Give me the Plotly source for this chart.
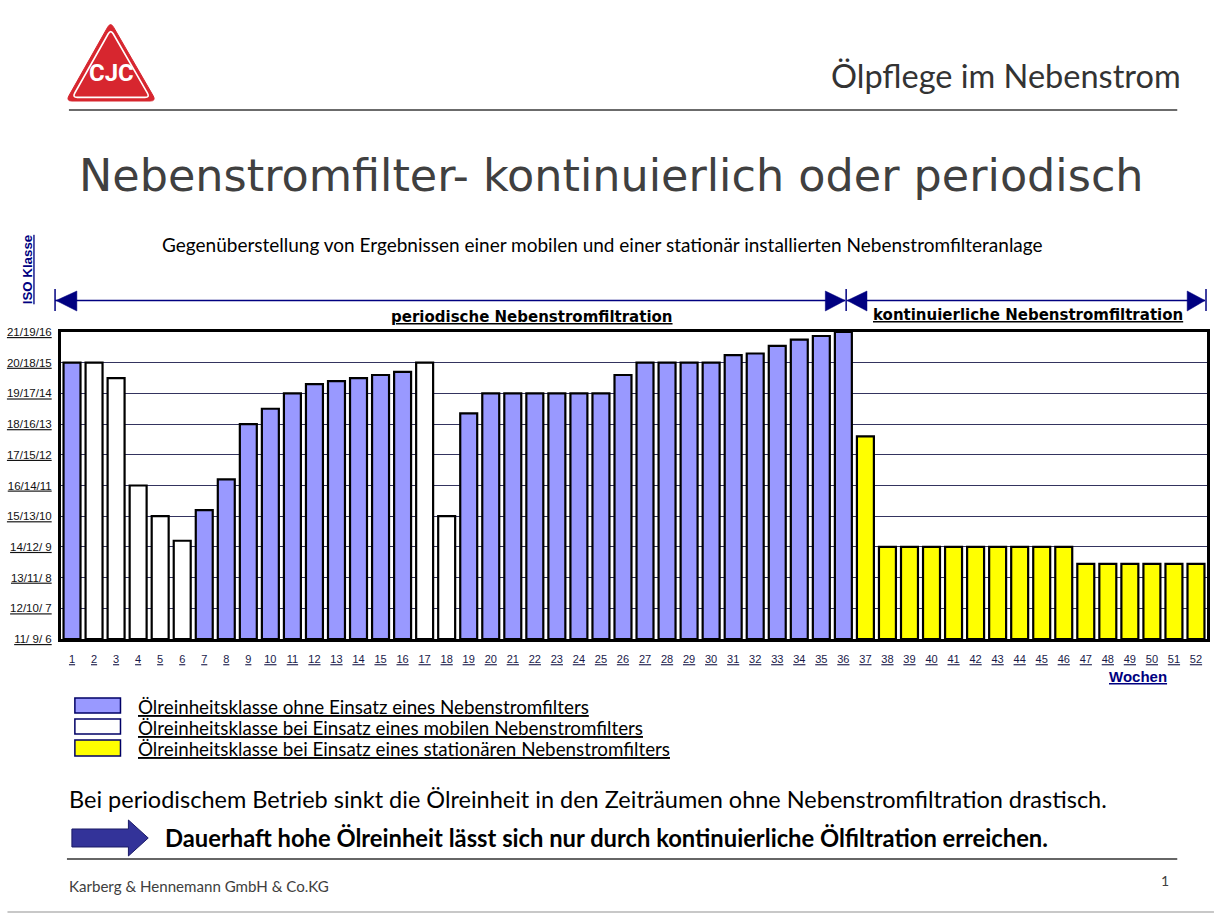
import plotly.graph_objects as go

# ---------------- data ----------------
weeks = list(range(1, 53))
week_labels = [str(w) for w in weeks]

# ISO class index: 0 = 11/9/6 ... 10 = 21/19/16
iso_values = [9.0, 9.0, 8.5, 5.0, 4.0, 3.2, 4.2, 5.2, 7.0, 7.5,
              8.0, 8.3, 8.4, 8.5, 8.6, 8.7, 9.0, 4.0, 7.35, 8.0,
              8.0, 8.0, 8.0, 8.0, 8.0, 8.6, 9.0, 9.0, 9.0, 9.0,
              9.25, 9.3, 9.55, 9.75, 9.87, 10.0, 6.6, 3.0, 3.0, 3.0,
              3.0, 3.0, 3.0, 3.0, 3.0, 3.0, 2.45, 2.45, 2.45, 2.45,
              2.45, 2.45]

# filter mode per week
modes = (["ohne"] + ["mobil"] * 5 + ["ohne"] * 10 + ["mobil"] * 2 +
         ["ohne"] * 18 + ["stationaer"] * 16)

iso_ticks = ["11/ 9/ 6", "12/10/ 7", "13/11/ 8", "14/12/ 9", "15/13/10",
             "16/14/11", "17/15/12", "18/16/13", "19/17/14", "20/18/15",
             "21/19/16"]

series_names = {
    "ohne": "Ölreinheitsklasse ohne Einsatz eines Nebenstromfilters",
    "mobil": "Ölreinheitsklasse bei Einsatz eines mobilen Nebenstromfilters",
    "stationaer": "Ölreinheitsklasse bei Einsatz eines stationären Nebenstromfilters",
}
series_colors = {"ohne": "#9999ff", "mobil": "#ffffff", "stationaer": "#ffff00"}
series_order = ["ohne", "mobil", "stationaer"]

# ---------------- layout geometry ----------------
W, H = 1217, 914
PL, PT, PW, PH = 54, 332, 1156, 307
NAVY = "#000080"
CAL = "Lato, Carlito, Calibri, sans-serif"
VER = "DejaVu Sans, Verdana, sans-serif"
ARI = "Liberation Sans, Arial, sans-serif"


def px(x):
    return (x - PL) / PW


def py(y):
    return (PT + PH - y) / PH


fig = go.Figure()
for key in series_order:
    xs = [w for w, m in zip(weeks, modes) if m == key]
    ys = [v for v, m in zip(iso_values, modes) if m == key]
    fig.add_trace(go.Bar(
        x=xs, y=ys, name=series_names[key], showlegend=False,
        marker=dict(color=series_colors[key], line=dict(color="black", width=2.2)),
        hovertemplate="Woche %{x}<extra></extra>",
    ))

shapes = []
annotations = []


def line(x0, y0, x1, y1, color, width):
    shapes.append(dict(type="line", xref="paper", yref="paper",
                       x0=px(x0), y0=py(y0), x1=px(x1), y1=py(y1),
                       line=dict(color=color, width=width), layer="above"))


def poly(points, fill, lcolor, lwidth):
    d = "M " + " L ".join(f"{px(a):.5f},{py(b):.5f}" for a, b in points) + " Z"
    shapes.append(dict(type="path", xref="paper", yref="paper", path=d,
                       fillcolor=fill, line=dict(color=lcolor, width=lwidth),
                       layer="above"))


def text(x, y, s, size, family, color="#000000", xanchor="left", bold=False,
         under=False, angle=0):
    if bold:
        s = "<b>" + s + "</b>"
    f = dict(size=size, family=family, color=color)
    if under:
        f["lineposition"] = "under"
    annotations.append(dict(xref="paper", yref="paper", x=px(x), y=py(y),
                            text=s, showarrow=False, xanchor=xanchor,
                            yanchor="middle", font=f, textangle=angle,
                            borderpad=0))


def rounded_tri(pts, r):
    import math
    d = ""
    for i in range(3):
        p0, p1, p2 = pts[i - 1], pts[i], pts[(i + 1) % 3]
        def unit(a, b):
            dx, dy = b[0] - a[0], b[1] - a[1]
            n = math.hypot(dx, dy)
            return dx / n, dy / n
        u1 = unit(p1, p0)
        u2 = unit(p1, p2)
        a = (p1[0] + u1[0] * r, p1[1] + u1[1] * r)
        b = (p1[0] + u2[0] * r, p1[1] + u2[1] * r)
        d += ("M " if i == 0 else " L ") + f"{px(a[0]):.5f},{py(a[1]):.5f}"
        d += f" Q {px(p1[0]):.5f},{py(p1[1]):.5f} {px(b[0]):.5f},{py(b[1]):.5f}"
    return d + " Z"


# ---- logo ----
tri = [(104, 22), (59, 101), (150, 101)]
shapes.append(dict(type="path", xref="paper", yref="paper",
                   path=rounded_tri(tri, 6), fillcolor="#d7262f",
                   line=dict(color="#d7262f", width=1), layer="above"))
g = (105, 75)
inner = [(g[0] + (p[0] - g[0]) * 0.86, g[1] + (p[1] - g[1]) * 0.86) for p in tri]
shapes.append(dict(type="path", xref="paper", yref="paper",
                   path=rounded_tri(inner, 5), fillcolor="rgba(0,0,0,0)",
                   line=dict(color="white", width=1.6), layer="above"))
text(105, 73, "CJC", 24, "Roboto, sans-serif", "white", "center", bold=True)

# ---- header ----
text(1185, 75, "Ölpflege im Nebenstrom", 32.5, CAL, "#333333", "right")
line(62, 110, 1180, 110, "#3a3a3a", 1.5)
text(609, 175, "Nebenstromfilter- kontinuierlich oder periodisch", 44.5, VER,
     "#404040", "center")
text(600, 244, "Gegenüberstellung von Ergebnissen einer mobilen und einer "
     "stationär installierten Nebenstromfilteranlage", 19, CAL, "#000000", "center")

# ---- ISO Klasse ----
text(20, 270, "ISO Klasse", 13.3, ARI, NAVY, "center", bold=True, under=True, angle=-90)

# ---- range arrows ----
AY = 300.5
line(48, AY, 845, AY, NAVY, 1.5)
line(48, 289, 48, 311, NAVY, 1.5)
line(846, 289, 846, 311, NAVY, 1.5)
poly([(49, AY), (70, 291), (70, 311)], NAVY, NAVY, 0.5)
poly([(845, AY), (825, 291), (825, 311)], NAVY, NAVY, 0.5)
line(847, AY, 1208, AY, NAVY, 1.5)
line(1209, 289, 1209, 311, NAVY, 1.5)
poly([(847, AY), (867, 291), (867, 311)], NAVY, NAVY, 0.5)
poly([(1208, AY), (1190, 291), (1190, 311)], NAVY, NAVY, 0.5)
text(529, 317, "periodische Nebenstromfiltration", 15, VER, "#000000", "center",
     bold=True, under=True)
text(1029, 315, "kontinuierliche Nebenstromfiltration", 15, VER, "#000000",
     "center", bold=True, under=True)

# ---- Wochen ----
text(1140, 676, "Wochen", 15, ARI, NAVY, "center", bold=True, under=True)

# ---- legend ----
rows = [(698, 713), (719, 734), (740, 756)]
for key, (y0, y1) in zip(series_order, rows):
    shapes.append(dict(type="rect", xref="paper", yref="paper",
                       x0=px(68), x1=px(114), y0=py(y1), y1=py(y0),
                       fillcolor=series_colors[key],
                       line=dict(color="#000066", width=1.5), layer="above"))
    text(131, (y0 + y1) / 2 + 0.5, series_names[key], 18.8, CAL, "#000000", "left",
         under=True)

# ---- bottom texts ----
text(61, 799, "Bei periodischem Betrieb sinkt die Ölreinheit in den Zeiträumen "
     "ohne Nebenstromfiltration drastisch.", 23.5, CAL, "#000000", "left")
poly([(65, 829), (122, 829), (122, 820), (142, 838), (122, 856), (122, 847),
      (65, 847)], "#333399", "#1a1a66", 1)
text(158, 838, "Dauerhaft hohe Ölreinheit lässt sich nur durch kontinuierliche "
     "Ölfiltration erreichen.", 23.75, CAL, "#000000", "left", bold=True)
line(60, 859, 1180, 859, "#333333", 1.5)
text(61, 886, "Karberg & Hennemann GmbH & Co.KG", 15.1, CAL, "#404040", "left")
text(1168, 880, "1", 14, CAL, "#404040", "center")
line(0, 912, 1217, 912, "#c8c8c8", 2)

fig.update_layout(
    width=W, height=H, autosize=False,
    margin=dict(l=PL, r=W - PL - PW, t=PT, b=H - PT - PH, pad=0),
    paper_bgcolor="white", plot_bgcolor="white",
    barmode="overlay", bargap=0.23,
    shapes=shapes, annotations=annotations,
    showlegend=False,
)
fig.update_xaxes(
    range=[0.5, 52.5], tickmode="array", tickvals=weeks, ticktext=week_labels,
    tickfont=dict(family=ARI, size=11, color="#1a1a4a", lineposition="under"),
    ticks="", ticklabelstandoff=8, showgrid=False, zeroline=False,
    showline=True, mirror=True, linecolor="black", linewidth=3,
)
fig.update_yaxes(
    range=[0, 10], tickmode="array", tickvals=list(range(11)), ticktext=iso_ticks,
    tickfont=dict(family=ARI, size=11.5, color="#111111", lineposition="under"),
    ticks="", ticklabelstandoff=4, showgrid=True, gridcolor="#34345f", gridwidth=1,
    zeroline=False, showline=True, mirror=True, linecolor="black", linewidth=3,
)

fig.write_html("out.html", config={"displayModeBar": False},
               post_script="document.body.style.margin='0';")
